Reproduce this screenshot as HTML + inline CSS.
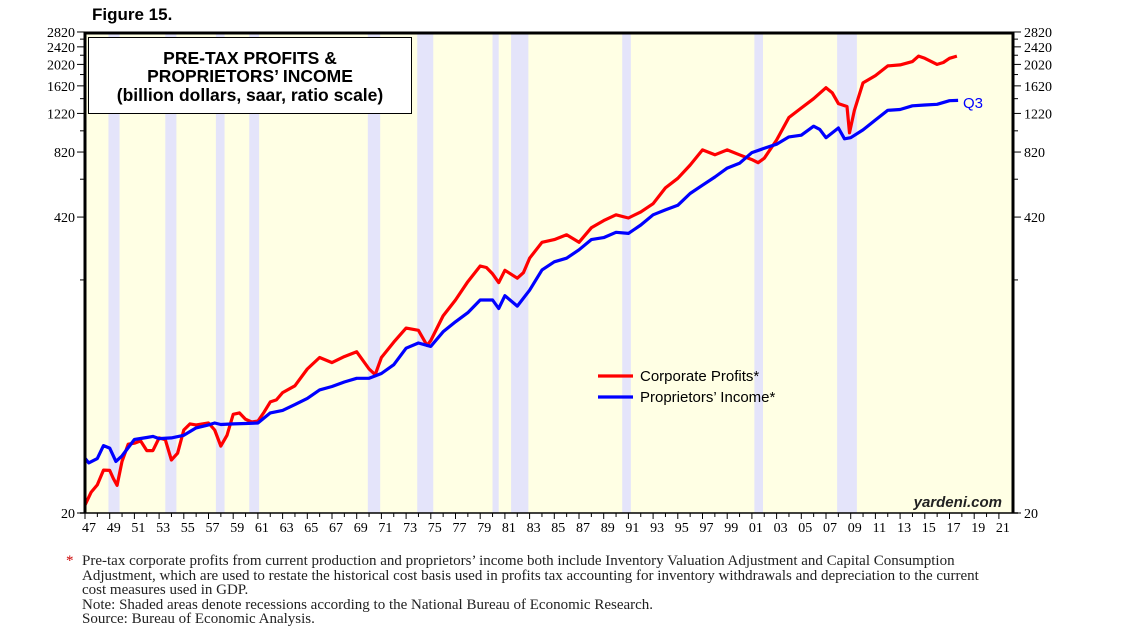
<!DOCTYPE html>
<html><head><meta charset="utf-8"><style>
body{margin:0;background:#fff;width:1138px;height:635px;overflow:hidden;font-family:"Liberation Sans",sans-serif}
svg{position:absolute;left:0;top:0}
.notes{position:absolute;left:82px;top:554px;font-family:"Liberation Serif",serif;font-size:15px;line-height:14.6px;color:#222;width:900px}
</style></head><body>
<svg width="1138" height="635">
<text x="92" y="20" font-size="17" font-weight="bold">Figure 15.</text>
<g id="plot"></g>
</svg>
<div class="notes">
<div style="position:relative;padding-left:0"><span style="position:absolute;left:-16px;color:#c00">*</span>Pre-tax corporate profits from current production and proprietors’ income both include Inventory Valuation Adjustment and Capital Consumption Adjustment, which are used to restate the historical cost basis used in profits tax accounting for inventory withdrawals and depreciation to the current cost measures used in GDP.</div>
<div>Note: Shaded areas denote recessions according to the National Bureau of Economic Research.</div>
<div>Source: Bureau of Economic Analysis.</div>
</div>
<script>
const recessions=[[1948.9,1949.8],[1953.5,1954.4],[1957.6,1958.3],[1960.3,1961.1],[1969.9,1970.9],[1973.9,1975.2],[1980.0,1980.5],[1981.5,1982.9],[1990.5,1991.2],[2001.2,2001.9],[2007.9,2009.5]];
const profitYears=[1947,1947.5,1948,1948.5,1949,1949.3,1949.6,1950,1950.5,1951,1951.5,1952,1952.5,1953,1953.5,1954,1954.5,1955,1955.5,1956,1957,1957.5,1958,1958.5,1959,1959.5,1960,1960.5,1961,1961.5,1962,1962.5,1963,1964,1965,1966,1967,1968,1969,1970,1970.5,1971,1972,1973,1974,1974.7,1975,1976,1977,1978,1979,1979.5,1980,1980.5,1981,1982,1982.5,1983,1984,1985,1986,1987,1988,1989,1990,1991,1992,1993,1994,1995,1996,1997,1998,1999,2000,2001,2001.5,2002,2003,2004,2005,2006,2007,2007.5,2008,2008.7,2008.9,2009.3,2010,2011,2012,2013,2014,2014.5,2015,2016,2016.5,2017,2017.6];
const profitVals=[21.7,24.8,26.7,31.1,31,28.5,26.6,34,40.6,41,42,38,38,43.3,42.5,34.5,37,47,50,49.5,50.5,47,39.8,44.5,55.2,56,52.5,51,51.5,56.5,62.7,64,69,74,88,99,94,100,105,88,83,99,116,134,131,112,118,152,179,216,254,250,234,214,243,224,237,275,324,333,350,324,376,405,430,416,443,482,567,626,717,838,797,838,797,759,735,770,928,1170,1290,1420,1590,1510,1350,1310,1000,1260,1670,1800,1990,2010,2080,2200,2150,2020,2060,2150,2200];
const propYears=[1947,1947.3,1948,1948.5,1949,1949.5,1950,1951,1952,1952.5,1953,1954,1955,1956,1957,1957.5,1958,1959,1960,1961,1962,1963,1964,1965,1966,1967,1968,1969,1970,1971,1972,1973,1974,1975,1976,1977,1978,1979,1980,1980.5,1981,1982,1983,1984,1985,1986,1987,1988,1989,1990,1991,1992,1993,1994,1995,1996,1997,1998,1999,2000,2001,2002,2003,2004,2005,2006,2006.5,2007,2008,2008.5,2009,2010,2011,2012,2013,2014,2015,2016,2017,2017.7];
const propVals=[35.1,33.5,35,40,39,34,36,42.6,43.5,44,43,43.3,44.5,48,49.5,50.5,49.7,50,50.2,50.5,56,57.5,61,65,71,73.5,77,80,80,84,92,109,115,111,129,143,157,179,179,164,187,168,198,244,265,275,300,333,340,359,355,387,430,452,474,535,583,634,695,730,815,852,889,958,975,1070,1035,950,1050,940,950,1030,1140,1260,1270,1320,1330,1340,1390,1395];
const yTicks=[20,420,820,1220,1620,2020,2420,2820];
const yMinor=[220,620,1020,1420,1820,2220,2620];
const xLabels=[];for(let y=1947;y<=2021;y+=2)xLabels.push(y);

const NS="http://www.w3.org/2000/svg";
const g=document.getElementById('plot');
const L=85,R=1013,T=33,B=513;
const X=yr=>L+(yr-1947)*12.35;
const Y=v=>B-Math.log(v/20)*97.2;
function el(t,a,p){const e=document.createElementNS(NS,t);for(const k in a)e.setAttribute(k,a[k]);(p||g).appendChild(e);return e;}
let e=el('rect',{x:L,y:T,width:R-L,height:B-T,fill:'#ffffe4'});


recessions.forEach(r=>{const s=el('rect',{x:X(r[0]),y:T,width:X(r[1])-X(r[0]),height:B-T,fill:'#e4e4fa'});

});
function line(ys,vs,c,n){const d=ys.map((y,i)=>(i?'L':'M')+X(y).toFixed(1)+','+Y(vs[i]).toFixed(1)).join('');
const p=el('path',{d:d,fill:'none',stroke:c,'stroke-width':3.2,'stroke-linejoin':'round'});

}
line(profitYears,profitVals,'#f00','corporate-profits-line');
line(propYears,propVals,'#00f','proprietors-income-line');
e=el('path',{d:`M${L},${B}V${T}H${R}V${B}`,fill:'none',stroke:'#000','stroke-width':3});


el('line',{x1:L-5,y1:B,x2:R+5,y2:B,stroke:'#000','stroke-width':1.5});
yTicks.forEach(v=>{const y=Y(v);
el('line',{x1:L-8,y1:y,x2:L,y2:y,stroke:'#000'});el('line',{x1:R,y1:y,x2:R+8,y2:y,stroke:'#000'});
let t=el('text',{x:L-10,y:y+5,'text-anchor':'end','font-size':14,'font-family':'Liberation Serif'});t.textContent=v;


t=el('text',{x:R+11,y:y+5,'font-size':14,'font-family':'Liberation Serif'});t.textContent=v;

});
yMinor.forEach(v=>{const y=Y(v);el('line',{x1:L-5,y1:y,x2:L,y2:y,stroke:'#000'});el('line',{x1:R,y1:y,x2:R+5,y2:y,stroke:'#000'});});
for(let yr=1947;yr<=2021;yr++){el('line',{x1:X(yr),y1:B,x2:X(yr),y2:B+(yr%2?6:4),stroke:'#000'});}
xLabels.forEach(yr=>{const t=el('text',{x:X(yr)+4,y:B+19,'text-anchor':'middle','font-size':14,'font-family':'Liberation Serif'});t.textContent=String(yr).slice(2);

});
e=el('rect',{x:88.5,y:37.5,width:323,height:76,fill:'#fff',stroke:'#000','stroke-width':1});


[['PRE-TAX PROFITS &',64],['PROPRIETORS’ INCOME',82],['(billion dollars, saar, ratio scale)',101]].forEach(s=>{const t=el('text',{x:250,y:s[1],'text-anchor':'middle','font-size':17.5,'font-weight':'bold'});t.textContent=s[0];

});
[['Corporate Profits*','#f00',376],['Proprietors’ Income*','#00f',397]].forEach(s=>{el('line',{x1:598,y1:s[2],x2:633,y2:s[2],stroke:s[1],'stroke-width':3.2});
const t=el('text',{x:640,y:s[2]+5,'font-size':15});t.textContent=s[0];

});
e=el('text',{x:963,y:108,fill:'#00f','font-size':15});e.textContent='Q3';


e=el('text',{x:1002,y:507,'text-anchor':'end','font-size':15,'font-style':'italic','font-weight':'bold',fill:'#222'});e.textContent='yardeni.com';


</script>
</body></html>
